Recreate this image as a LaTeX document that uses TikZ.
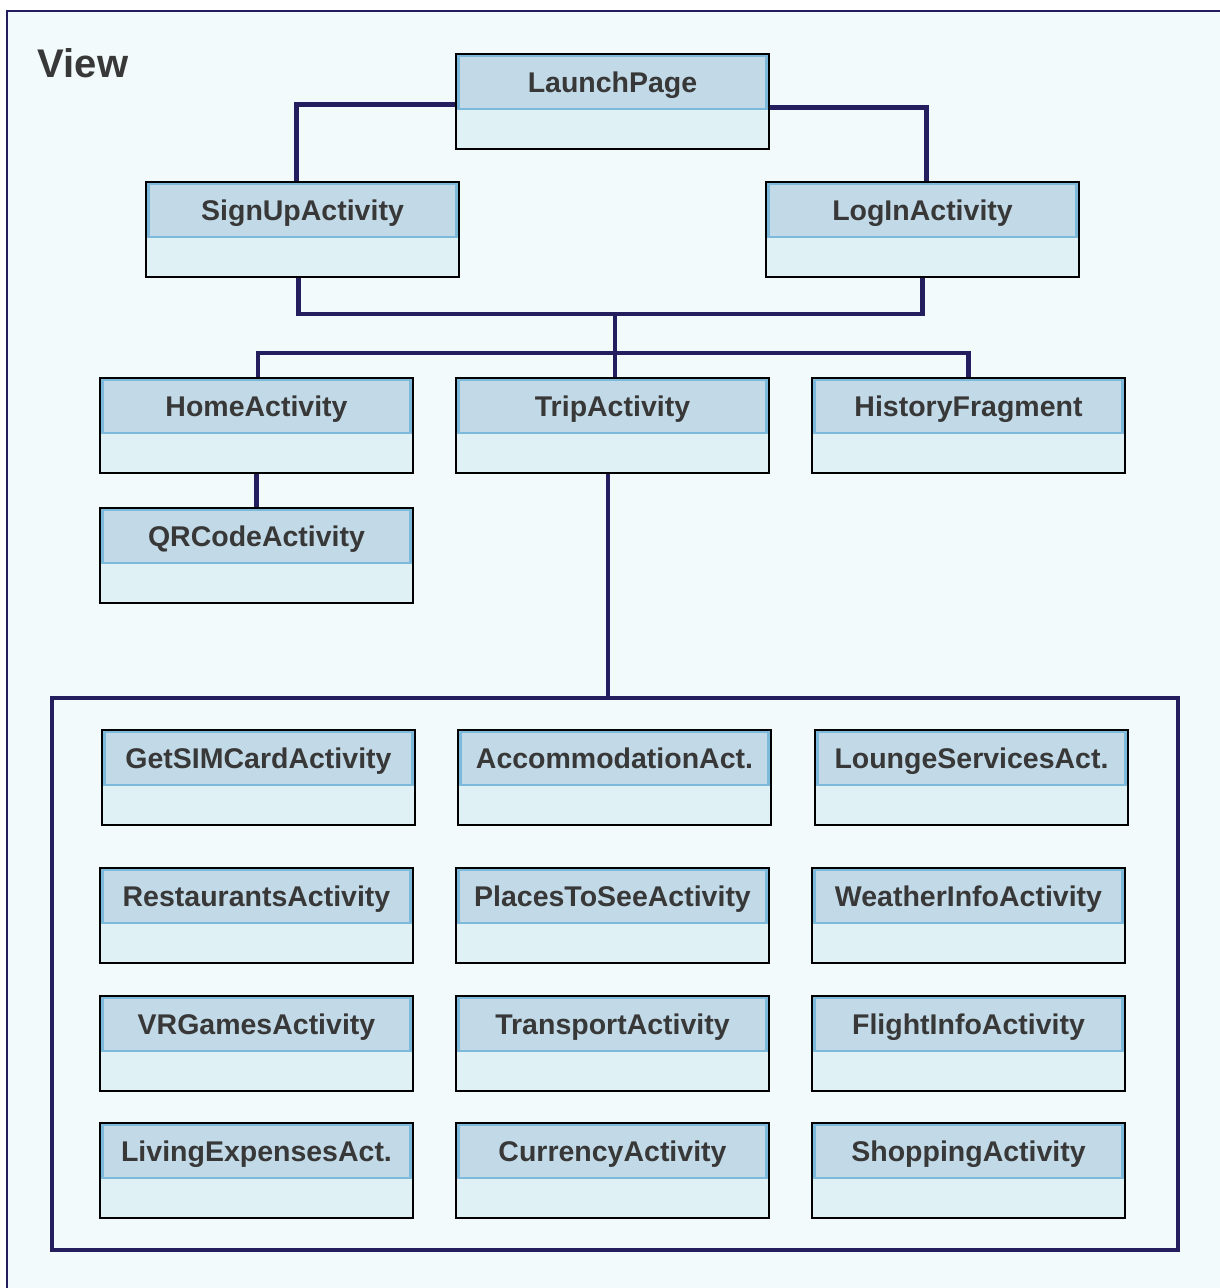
\documentclass[tikz,border=0pt]{standalone}
\usepackage{fontspec}
\setmainfont{Liberation Sans}
\definecolor{pagebg}{HTML}{F2FAFC}
\definecolor{navy}{HTML}{241D5E}
\definecolor{headfill}{HTML}{C2DAE7}
\definecolor{headline}{HTML}{7DB9DA}
\definecolor{bodyfill}{HTML}{E0F1F5}
\definecolor{labeltext}{HTML}{383838}
\pgfdeclarelayer{back}
\pgfdeclarelayer{links}
\pgfsetlayers{back,links,main}
\tikzset{
  boxbody/.style={draw=black, line width=1.8pt, fill=bodyfill,
    minimum width=313pt, minimum height=95pt, inner sep=0pt},
  boxhead/.style={draw=headline, line width=2.2pt, fill=headfill,
    minimum width=308pt, minimum height=53pt, inner sep=0pt,
    font=\bfseries\fontsize{28.5}{30}\selectfont, text=labeltext,
    text height=20.5pt, text depth=0pt},
  link/.style={draw=navy, line width=4.7pt},
  groupframe/.style={draw=navy, line width=4.5pt, minimum width=1126pt,
    minimum height=552pt, inner sep=0pt},
}
% class box: name, left x, top y, label
\newcommand\classbox[4]{%
  \node[boxbody] (#1) at (#2+156.5,#3+47.5) {};
  \node[boxhead] (#1-h) at (#2+156.5,#3+28.5) {#4};}
\begin{document}
\begin{tikzpicture}[x=1pt,y=-1pt]
  \useasboundingbox (0,0) rectangle (1219,1288);
  \clip (0,0) rectangle (1219,1288);
  \begin{pgfonlayer}{back}
    \fill[white] (0,0) rectangle (1219,1288);
    \draw[navy, line width=2.5pt, fill=pagebg] (7,11) rectangle (1240,1310);
  \end{pgfonlayer}

  \node[anchor=base west, font=\bfseries\fontsize{40}{44}\selectfont,
    text=labeltext, inner sep=0pt] (title) at (37.5,77) {View};

  % nested group of trip features
  \node[groupframe] (group) at (615,974) {};

  \classbox{launch}{456}{54}{LaunchPage}
  \classbox{signup}{146}{182}{SignUpActivity}
  \classbox{login}{766}{182}{LogInActivity}
  \classbox{home}{100}{378}{HomeActivity}
  \classbox{trip}{456}{378}{TripActivity}
  \classbox{history}{812}{378}{HistoryFragment}
  \classbox{qr}{100}{508}{QRCodeActivity}

  \classbox{simcard}{102}{730}{GetSIMCardActivity}
  \classbox{accom}{458}{730}{AccommodationAct.}
  \classbox{lounge}{815}{730}{LoungeServicesAct.}
  \classbox{restaurants}{100}{868}{RestaurantsActivity}
  \classbox{places}{456}{868}{PlacesToSeeActivity}
  \classbox{weather}{812}{868}{WeatherInfoActivity}
  \classbox{vrgames}{100}{996}{VRGamesActivity}
  \classbox{transport}{456}{996}{TransportActivity}
  \classbox{flight}{812}{996}{FlightInfoActivity}
  \classbox{living}{100}{1123}{LivingExpensesAct.}
  \classbox{currency}{456}{1123}{CurrencyActivity}
  \classbox{shopping}{812}{1123}{ShoppingActivity}

  \coordinate (join) at (615,314);
  \coordinate (bus) at (615,353);

  \begin{pgfonlayer}{links}
    \draw[link] ([yshift=-3pt]launch.west) -| ([xshift=-6pt]signup.north);
    \draw[link] ([yshift=-6pt]launch.east) -| ([xshift=4pt]login.north);
    \draw[link] ([xshift=-4pt]signup.south) |- (join) -| (login.south);
    \draw[link] (join) -- (join |- trip.north);
    \draw[link] ([xshift=1.5pt]home.north) |- (bus) -| (history.north);
    \draw[link] (home.south) -- (qr.north);
    \draw[link] ([xshift=-4.5pt]trip.south) -- ([xshift=-4.5pt]trip.south |- group.north);
  \end{pgfonlayer}
\end{tikzpicture}
\end{document}
